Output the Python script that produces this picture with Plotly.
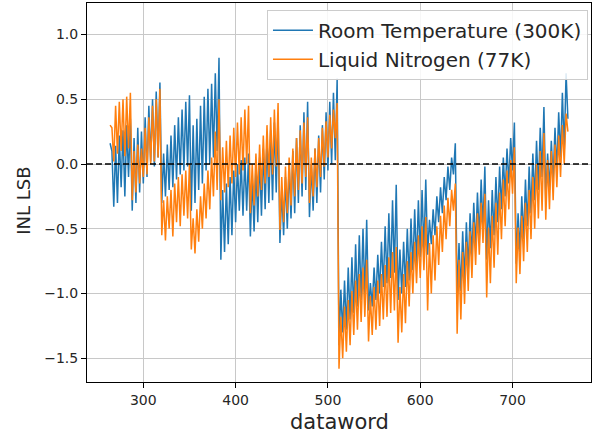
import plotly.graph_objects as go

# dataword positions (every 2 codes)
dataword = list(range(264, 761, 2))

room_temp_300k = [
    # 264-286
    0.16, 0.10, -0.33, 0.14, -0.30, 0.22, -0.18, 0.26, -0.25, 0.30, -0.10, 0.35,
    # 288-318
    -0.36, 0.20, -0.30, 0.28, -0.22, 0.25, -0.15, 0.36, -0.10, 0.45, 0.02, 0.50, -0.02, 0.56, 0.05, 0.63,
    # 320-350
    -0.30, 0.08, -0.25, 0.15, -0.20, 0.22, -0.18, 0.30, -0.12, 0.36, -0.08, 0.42, -0.05, 0.48, -0.02, 0.53,
    # 352-382
    -0.36, 0.30, -0.30, 0.35, -0.20, 0.45, -0.15, 0.52, -0.05, 0.58, 0.00, 0.62, 0.05, 0.70, 0.10, 0.82,
    # 384-414
    -0.74, -0.20, -0.68, -0.15, -0.62, -0.10, -0.55, -0.05, -0.45, 0.00, -0.36, 0.03, -0.40, 0.05, -0.36, 0.08,
    # 416-446
    -0.56, -0.10, -0.52, -0.02, -0.45, 0.05, -0.40, 0.12, -0.35, 0.20, -0.30, 0.26, -0.28, 0.32, -0.22, 0.39,
    # 448-478
    -0.61, -0.20, -0.55, -0.10, -0.50, 0.00, -0.42, 0.10, -0.38, 0.20, -0.30, 0.30, -0.25, 0.40, -0.20, 0.48,
    # 480-510
    -0.41, 0.00, -0.36, 0.12, -0.30, 0.22, -0.22, 0.30, -0.12, 0.40, -0.05, 0.48, 0.00, 0.55, 0.03, 0.66,
    # 512-542
    -1.40, -0.97, -1.30, -0.90, -1.28, -0.80, -1.20, -0.72, -1.15, -0.62, -1.10, -0.55, -1.05, -0.50, -1.02, -0.43,
    # 544-574
    -1.13, -0.92, -1.10, -0.80, -1.05, -0.70, -1.00, -0.60, -0.95, -0.48, -0.92, -0.38, -0.88, -0.28, -0.84, -0.16,
    # 576-606
    -1.05, -0.66, -1.00, -0.60, -0.95, -0.50, -0.90, -0.42, -0.82, -0.35, -0.78, -0.28, -0.72, -0.20, -0.68, -0.12,
    # 608-638
    -0.70, -0.43, -0.62, -0.35, -0.55, -0.25, -0.45, -0.18, -0.38, -0.10, -0.28, -0.02, -0.20, 0.05, -0.08, 0.16,
    # 640-670
    -1.05, -0.61, -0.98, -0.52, -0.90, -0.45, -0.82, -0.38, -0.72, -0.30, -0.65, -0.22, -0.58, -0.12, -0.50, -0.02,
    # 672-702
    -0.74, -0.28, -0.65, -0.20, -0.55, -0.10, -0.45, -0.02, -0.35, 0.05, -0.25, 0.12, -0.15, 0.20, -0.05, 0.32,
    # 704-734
    -0.77, -0.38, -0.68, -0.25, -0.58, -0.12, -0.48, -0.02, -0.38, 0.08, -0.28, 0.18, -0.20, 0.28, -0.10, 0.44,
    # 736-760
    -0.28, 0.08, -0.20, 0.18, -0.12, 0.28, -0.05, 0.40, 0.05, 0.55, 0.10, 0.70, 0.35,
]

liquid_nitrogen_77k = [
    # 264-286
    0.30, 0.28, 0.02, 0.45, 0.08, 0.48, 0.10, 0.50, 0.06, 0.52, 0.12, 0.55,
    # 288-318
    -0.28, 0.10, -0.22, 0.15, -0.15, 0.12, -0.10, 0.28, -0.08, 0.36, 0.00, 0.45, 0.02, 0.50, 0.05, 0.58,
    # 320-350
    -0.55, -0.28, -0.59, -0.25, -0.50, -0.20, -0.56, -0.15, -0.45, -0.10, -0.48, -0.08, -0.40, -0.05, -0.42, 0.00,
    # 352-382
    -0.66, -0.42, -0.69, -0.35, -0.60, -0.25, -0.50, -0.15, -0.42, -0.05, -0.35, 0.05, -0.25, 0.25, -0.20, 0.50,
    # 384-414
    -0.28, 0.13, -0.22, 0.18, -0.18, 0.22, -0.15, 0.28, -0.10, 0.32, -0.08, 0.36, -0.05, 0.42, 0.00, 0.45,
    # 416-446
    -0.38, 0.00, -0.32, 0.08, -0.25, 0.15, -0.20, 0.22, -0.15, 0.30, -0.10, 0.36, -0.08, 0.42, -0.02, 0.47,
    # 448-478
    -0.51, -0.10, -0.45, -0.02, -0.38, 0.05, -0.32, 0.12, -0.25, 0.20, -0.20, 0.26, -0.15, 0.32, -0.10, 0.36,
    # 480-510
    -0.30, 0.05, -0.25, 0.12, -0.18, 0.20, -0.10, 0.28, -0.02, 0.33, 0.05, 0.38, 0.12, 0.42, 0.20, 0.47,
    # 512-542
    -1.58, -1.18, -1.50, -1.10, -1.45, -1.05, -1.40, -0.98, -1.32, -0.90, -1.28, -0.85, -1.22, -0.80, -1.18, -0.74,
    # 544-574
    -1.37, -1.02, -1.32, -0.95, -1.28, -0.90, -1.25, -0.85, -1.20, -0.78, -1.18, -0.72, -1.15, -0.68, -1.13, -0.64,
    # 576-606
    -1.38, -0.95, -1.30, -0.85, -1.23, -0.75, -1.10, -0.68, -1.00, -0.60, -0.92, -0.55, -0.88, -0.48, -0.82, -0.41,
    # 608-638
    -1.13, -0.61, -1.00, -0.55, -0.90, -0.48, -0.78, -0.40, -0.68, -0.32, -0.58, -0.26, -0.48, -0.20, -0.36, -0.15,
    # 640-670
    -1.31, -0.74, -1.20, -0.68, -1.08, -0.60, -0.98, -0.52, -0.88, -0.45, -0.78, -0.38, -0.70, -0.30, -0.61, -0.23,
    # 672-702
    -1.03, -0.49, -0.92, -0.40, -0.80, -0.30, -0.70, -0.22, -0.58, -0.12, -0.48, -0.05, -0.35, 0.03, -0.23, 0.13,
    # 704-734
    -0.92, -0.49, -0.85, -0.40, -0.75, -0.30, -0.68, -0.20, -0.58, -0.10, -0.50, 0.00, -0.42, 0.10, -0.36, 0.24,
    # 736-760
    -0.43, 0.03, -0.35, 0.10, -0.28, 0.15, -0.18, 0.22, -0.10, 0.30, 0.00, 0.39, 0.25,
]

x_ticks = [300, 400, 500, 600, 700]
y_ticks = [-1.5, -1.0, -0.5, 0.0, 0.5, 1.0]
y_tick_labels = ["\u22121.5", "\u22121.0", "\u22120.5", "0.0", "0.5", "1.0"]

FONT = "DejaVu Sans"
TXT = "#262626"

fig = go.Figure()
fig.add_trace(go.Scatter(
    x=dataword, y=room_temp_300k, mode="lines",
    name="Room Temperature (300K)",
    line=dict(color="#1f77b4", width=1.5),
))
fig.add_trace(go.Scatter(
    x=dataword, y=liquid_nitrogen_77k, mode="lines",
    name="Liquid Nitrogen (77K)",
    line=dict(color="#ff7f0e", width=1.5),
))

fig.add_shape(type="line", xref="paper", yref="y", x0=0, x1=1, y0=0, y1=0,
              line=dict(color="black", width=1.6, dash="6px,3px"))

fig.update_layout(
    width=592, height=434,
    margin=dict(l=87, r=1, t=3, b=52),
    paper_bgcolor="white", plot_bgcolor="white",
    font=dict(family=FONT, color=TXT),
    showlegend=True,
    legend=dict(
        x=0.994, y=0.982, xanchor="right", yanchor="top",
        bgcolor="rgba(255,255,255,0.85)", bordercolor="#cccccc", borderwidth=1,
        font=dict(size=20, family=FONT, color=TXT),
        tracegroupgap=0, itemwidth=40,
    ),
    xaxis=dict(
        range=[239, 785], tickvals=x_ticks,
        showgrid=True, gridcolor="#c8c8c8", gridwidth=1,
        showline=True, linecolor="black", linewidth=1, mirror=True,
        ticks="outside", ticklen=5, tickcolor="black",
        tickfont=dict(size=14, family=FONT, color=TXT),
        zeroline=False, automargin=False,
    ),
    yaxis=dict(
        range=[-1.683, 1.243], tickvals=y_ticks, ticktext=y_tick_labels,
        showgrid=True, gridcolor="#c8c8c8", gridwidth=1,
        showline=True, linecolor="black", linewidth=1, mirror=True,
        ticks="outside", ticklen=5, tickcolor="black",
        tickfont=dict(size=14, family=FONT, color=TXT),
        zeroline=False, automargin=False,
    ),
    annotations=[
        dict(text="dataword", xref="paper", yref="paper", x=0.5, y=-0.1055, yanchor="middle",
             showarrow=False, font=dict(size=21, family=FONT, color=TXT)),
        dict(text="INL LSB", xref="paper", x=-0.125, xanchor="center", yref="paper", y=0.478,
             yanchor="middle", textangle=-90, showarrow=False,
             font=dict(size=18, family=FONT, color=TXT)),
    ],
)

fig.write_html(
    "out.html",
    config={"displayModeBar": False},
    post_script="document.body.style.margin='0px';document.body.style.overflow='hidden';",
)
